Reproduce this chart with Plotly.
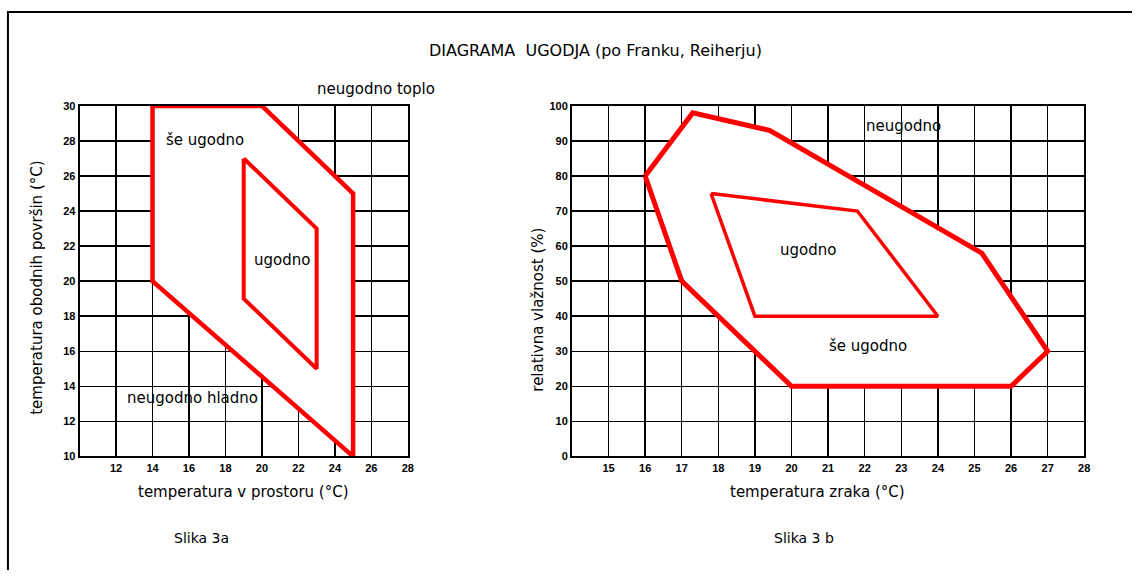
import plotly.graph_objects as go

# ---- data ----
left_outer_x = [14, 20, 25, 25, 14, 14]
left_outer_y = [30, 30, 25, 10, 20, 30]
left_inner_x = [19, 23, 23, 19, 19]
left_inner_y = [27, 23, 15, 19, 27]

right_outer_x = [16, 17.3, 19.4, 25.2, 27, 26, 20, 17, 16]
right_outer_y = [80, 98, 93, 58, 30, 20, 20, 50, 80]
right_inner_x = [17.8, 21.8, 24, 19, 17.8]
right_inner_y = [75, 70, 40, 40, 75]

left_xticks = [12, 14, 16, 18, 20, 22, 24, 26, 28]
left_yticks = [10, 12, 14, 16, 18, 20, 22, 24, 26, 28, 30]
right_xticks = [15, 16, 17, 18, 19, 20, 21, 22, 23, 24, 25, 26, 27, 28]
right_yticks = [0, 10, 20, 30, 40, 50, 60, 70, 80, 90, 100]

W, H = 1138, 576
FONT = "DejaVu Sans"
RED = "#ff0000"


def px(x):
    return x / W


def py(y):
    return 1 - y / H


fig = go.Figure()

fig.add_trace(go.Scatter(x=left_outer_x, y=left_outer_y, mode="lines", fill="toself",
                         fillcolor="white", line=dict(color=RED, width=4.5),
                         xaxis="x", yaxis="y", hoverinfo="skip"))
fig.add_trace(go.Scatter(x=left_inner_x, y=left_inner_y, mode="lines", fill="toself",
                         fillcolor="white", line=dict(color=RED, width=4),
                         xaxis="x", yaxis="y", hoverinfo="skip"))
fig.add_trace(go.Scatter(x=right_outer_x, y=right_outer_y, mode="lines", fill="toself",
                         fillcolor="white", line=dict(color=RED, width=5),
                         xaxis="x2", yaxis="y2", hoverinfo="skip"))
fig.add_trace(go.Scatter(x=right_inner_x, y=right_inner_y, mode="lines", fill="toself",
                         fillcolor="white", line=dict(color=RED, width=3.5),
                         xaxis="x2", yaxis="y2", hoverinfo="skip"))

tickfont = dict(family="Liberation Sans", size=11, color="black")
axcommon = dict(showline=True, linecolor="black", linewidth=2, mirror=True,
                showgrid=True, gridcolor="black", gridwidth=1.5, zeroline=False,
                ticks="", tickfont=tickfont, fixedrange=True)

fig.update_layout(
    width=W, height=H, margin=dict(l=0, r=0, t=0, b=0),
    paper_bgcolor="white", plot_bgcolor="white", showlegend=False,
    xaxis=dict(domain=[px(80), px(410)], range=[10, 28], tickvals=left_xticks,
               ticktext=[f"<b>{v}</b>" for v in left_xticks], anchor="y", **axcommon),
    yaxis=dict(domain=[py(460), py(102)], range=[10, 30], tickvals=left_yticks,
               ticktext=[f"<b>{v}</b>" for v in left_yticks], anchor="x", **axcommon),
    xaxis2=dict(domain=[px(575), px(1090)], range=[14, 28], tickvals=right_xticks,
                ticktext=[f"<b>{v}</b>" for v in right_xticks], anchor="y2", **axcommon),
    yaxis2=dict(domain=[py(460), py(102)], range=[0, 100], tickvals=right_yticks,
                ticktext=[f"<b>{v}</b>" for v in right_yticks], anchor="x2", **axcommon),
)


def ann(text, x, y, size=15, xref="paper", yref="paper", angle=0, xa="center"):
    fig.add_annotation(text=text, x=x, y=y, xref=xref, yref=yref, showarrow=False,
                       textangle=angle, xanchor=xa, yanchor="middle",
                       font=dict(family=FONT, size=size, color="black"))


ann("DIAGRAMA  UGODJA (po Franku, Reiherju)", px(599), py(45), size=16)
ann("neugodno toplo", px(378), py(85), size=15)
ann("še ugodno", 16.9, 28.05, size=15, xref="x", yref="y")
ann("ugodno", 21.1, 21.2, size=15, xref="x", yref="y")
ann("neugodno hladno", 16.2, 13.35, size=15, xref="x", yref="y")
ann("temperatura obodnih površin (°C)", px(37), py(288), size=15, angle=-90)
ann("temperatura v prostoru (°C)", px(245), py(496), size=15)
ann("Slika 3a", px(203), py(543), size=14)

ann("neugodno", 23.05, 94.4, size=15, xref="x2", yref="y2")
ann("ugodno", 20.44, 58.9, size=15, xref="x2", yref="y2")
ann("še ugodno", 22.1, 31.6, size=15, xref="x2", yref="y2")
ann("relativna vlažnost (%)", px(540), py(310), size=15, angle=-90)
ann("temperatura zraka (°C)", px(822), py(496), size=15)
ann("Slika 3 b", px(808), py(543), size=14)

# outer frame (top and left edges)
fig.add_shape(type="line", xref="paper", yref="paper", x0=px(7), x1=1, y0=py(6), y1=py(6),
              line=dict(color="black", width=2))
fig.add_shape(type="line", xref="paper", yref="paper", x0=px(8), x1=px(8), y0=py(5), y1=0,
              line=dict(color="black", width=2))

fig.write_html("out.html", config={"displayModeBar": False, "staticPlot": True},
               post_script="document.body.style.margin='0';document.body.style.overflow='hidden';")
